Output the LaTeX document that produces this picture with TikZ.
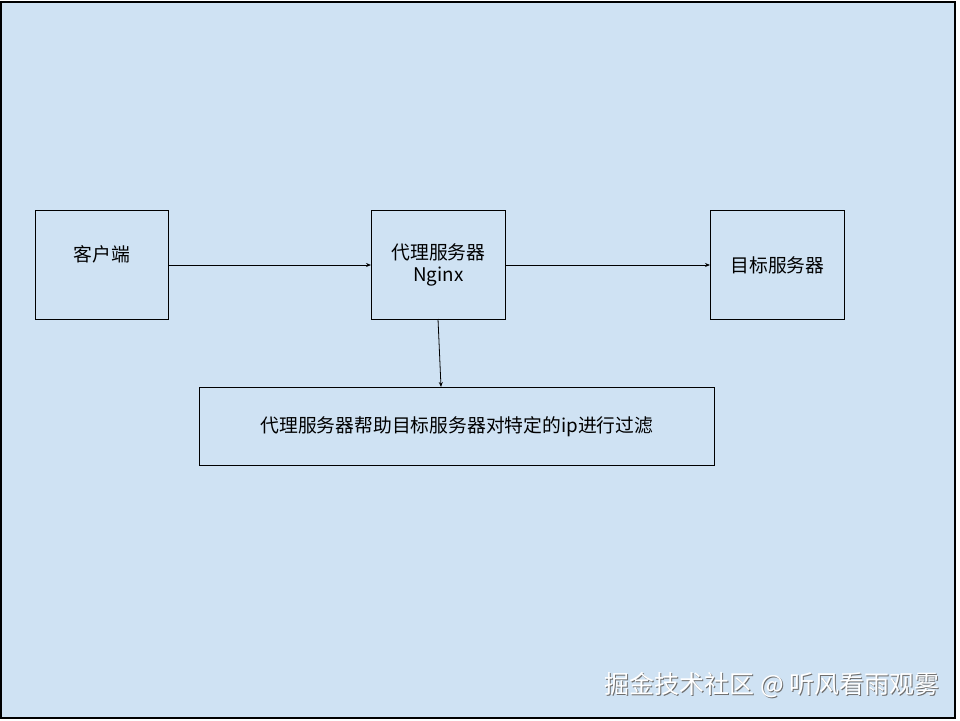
\documentclass[tikz,border=0pt]{standalone}
\usepackage{fontspec}
\setmainfont{Noto Sans CJK SC}
\usetikzlibrary{arrows.meta}
\definecolor{bgblue}{HTML}{CFE2F3}
\definecolor{wmgray}{HTML}{6E6E6E}
\begin{document}
\begin{tikzpicture}[x=1pt,y=-1pt,
  box/.style={draw=black,line width=0.9pt,inner sep=0pt,anchor=north west,align=center,font=\fontsize{18.8}{22.5}\selectfont},
  lbl/.style={inner sep=0pt,align=center,font=\fontsize{18.8}{22.5}\selectfont},
  conn/.style={draw=black,line width=0.8pt,-{Stealth[length=5pt,width=4pt]}}]
\useasboundingbox (0,0) rectangle (960,720);
\fill[white] (0,0) rectangle (960,720);
\draw[fill=bgblue,line width=1.2pt] (1,2) rectangle (955,718);
\node[box,minimum width=133pt,minimum height=109pt] (client) at (35,210) {};
\node[lbl] (clienttext) at (102,254) {客户端};
\node[box,minimum width=134pt,minimum height=109pt] (proxy) at (371,210) {代理服务器\\Nginx};
\node[box,minimum width=134pt,minimum height=109pt] (target) at (710,210) {目标服务器};
\node[box,minimum width=515pt,minimum height=78pt] (filter) at (199,387) {代理服务器帮助目标服务器对特定的ip进行过滤};
\draw[conn] (client.east |- 0,265) -- (proxy.west |- 0,265);
\draw[conn] (proxy.east |- 0,265) -- (target.west |- 0,265);
\draw[conn] (438,319) -- (441,387);
\node[font=\fontsize{25}{28}\selectfont,text=wmgray,anchor=center] at (773,686) {掘金技术社区 @ 听风看雨观雾};
\node[font=\fontsize{25}{28}\selectfont,text=white,anchor=center] (wm) at (772,685) {掘金技术社区 @ 听风看雨观雾};
\end{tikzpicture}
\end{document}
